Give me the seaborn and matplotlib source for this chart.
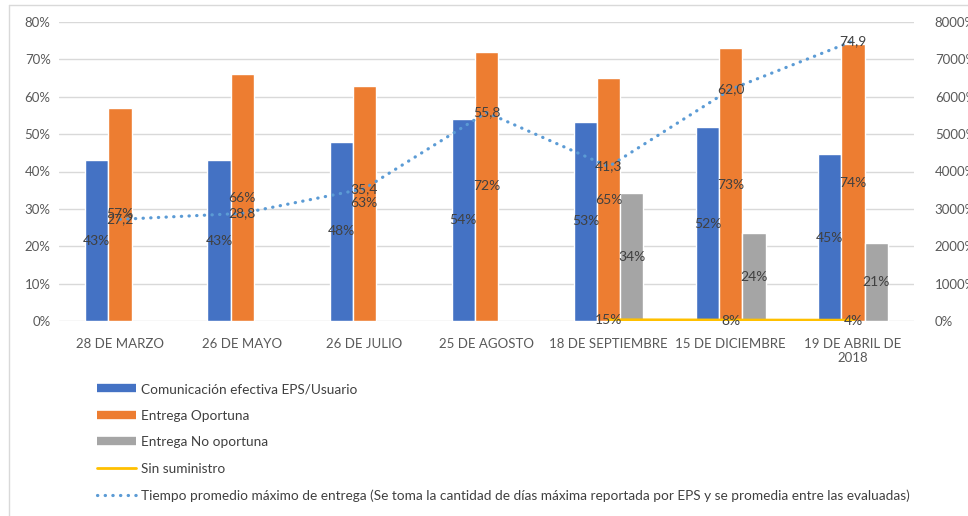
import numpy as np
import pandas as pd
import matplotlib
matplotlib.use("Agg")
import matplotlib.pyplot as plt
from matplotlib.lines import Line2D
from matplotlib.ticker import FuncFormatter
import seaborn as sns

# Datos
categorias = ["28 DE MARZO", "26 DE MAYO", "26 DE JULIO", "25 DE AGOSTO",
              "18 DE SEPTIEMBRE", "15 DE DICIEMBRE", "19 DE ABRIL DE\n2018"]
comunicacion = [43, 43, 48, 54, 53.3, 52, 44.6]
oportuna = [57, 66, 63, 72, 65, 73, 74]
no_oportuna = [np.nan, np.nan, np.nan, np.nan, 34.2, 23.6, 21]
sin_suministro = [np.nan, np.nan, np.nan, np.nan, 15, 8, 4]
tiempo = [27.2, 28.8, 35.4, 55.8, 41.3, 62.0, 74.9]

series = ["Comunicación efectiva EPS/Usuario", "Entrega Oportuna", "Entrega No oportuna"]
colores = ["#4472C4", "#ED7D31", "#A5A5A5"]
txt_color = "#404040"
tick_color = "#595959"

sns.set_style("white")
plt.rcParams["font.family"] = ["Lato", "DejaVu Sans"]

df = pd.DataFrame({
    "fecha": categorias * 3,
    "serie": [s for s in series for _ in categorias],
    "valor": np.array(comunicacion + oportuna + no_oportuna) / 100,
})

fig = plt.figure(figsize=(9.68, 5.16), dpi=100)
ax = fig.add_axes([59 / 968, 1 - 321 / 516, 855 / 968, 299 / 516])

sns.barplot(data=df, x="fecha", y="valor", hue="serie", hue_order=series,
            order=categorias, palette=colores, width=0.57, gap=0,
            saturation=1, errorbar=None, legend=False, ax=ax)

# linea punteada (eje principal)
x = np.arange(len(categorias))
sns.lineplot(x=x, y=np.array(tiempo) / 100, color="#5B9BD5", lw=2.3,
             linestyle=(0, (0.1, 2.3)), dash_capstyle="round", ax=ax)

ax.set_ylim(0, 0.8)
ax.set_xlim(-0.5, len(categorias) - 0.5)
ax.set_yticks(np.arange(0, 0.81, 0.1))
ax.yaxis.set_major_formatter(FuncFormatter(lambda v, p: f"{v * 100:.0f}%"))
ax.grid(axis="y", color="#D9D9D9", lw=1)
ax.set_axisbelow(True)
ax.set_xlabel("")
ax.set_ylabel("")
for s in ax.spines.values():
    s.set_visible(False)
ax.tick_params(axis="both", length=0, labelsize=9.5, colors=tick_color, pad=6)
ax.tick_params(axis="x", pad=12)

# eje secundario
ax2 = ax.twinx()
sns.lineplot(x=x, y=np.array(sin_suministro) / 100, color="#FFC000", lw=3, ax=ax2)
ax2.set_ylim(0, 80)
ax2.set_yticks(np.arange(0, 81, 10))
ax2.yaxis.set_major_formatter(FuncFormatter(lambda v, p: f"{v * 100:.0f}%"))
for s in ax2.spines.values():
    s.set_visible(False)
ax2.tick_params(axis="y", length=0, labelsize=9.5, colors=tick_color, pad=15)
ax2.set_ylabel("")

# etiquetas de datos
desp = [-0.19, 0, 0.19]
for vals, d in zip([comunicacion, oportuna, no_oportuna], desp):
    for i, v in enumerate(vals):
        if np.isnan(v):
            continue
        ax.text(i + d, v / 200, f"{v:.0f}%", ha="center", va="center",
                fontsize=10, color=txt_color)
for i, v in enumerate(tiempo):
    ax.text(i, v / 100, f"{v:.1f}".replace(".", ","), ha="center", va="center",
            fontsize=10, color=txt_color)
for i, v in enumerate(sin_suministro):
    if np.isnan(v):
        continue
    ax2.text(i, v / 100, f"{v:.0f}%", ha="center", va="center",
             fontsize=10, color=txt_color)

# leyenda
handles = [
    Line2D([], [], color=colores[0], lw=6, solid_capstyle="butt"),
    Line2D([], [], color=colores[1], lw=6, solid_capstyle="butt"),
    Line2D([], [], color=colores[2], lw=6, solid_capstyle="butt"),
    Line2D([], [], color="#FFC000", lw=2),
    Line2D([], [], color="#5B9BD5", lw=2.3, linestyle=(0, (0.1, 2.3)),
           dash_capstyle="round"),
]
labels = series + ["Sin suministro",
                   "Tiempo promedio máximo de entrega (Se toma la cantidad de días máxima "
                   "reportada por EPS y se promedia entre las evaluadas)"]
leg = fig.legend(handles, labels, loc="upper left", bbox_to_anchor=(97 / 968, 1 - 383 / 516),
                 frameon=False, fontsize=9.8, handlelength=2.85, handletextpad=0.4,
                 labelspacing=1.07, borderpad=0, borderaxespad=0)
for t in leg.get_texts():
    t.set_color(txt_color)

# borde del area del grafico
fig.add_artist(Line2D([9 / 968, 9 / 968], [0, 1 - 5 / 516], color="#D9D9D9", lw=1))
fig.add_artist(Line2D([9 / 968, 1], [1 - 5 / 516, 1 - 5 / 516], color="#D9D9D9", lw=1))

fig.savefig("out.png", dpi=100)
